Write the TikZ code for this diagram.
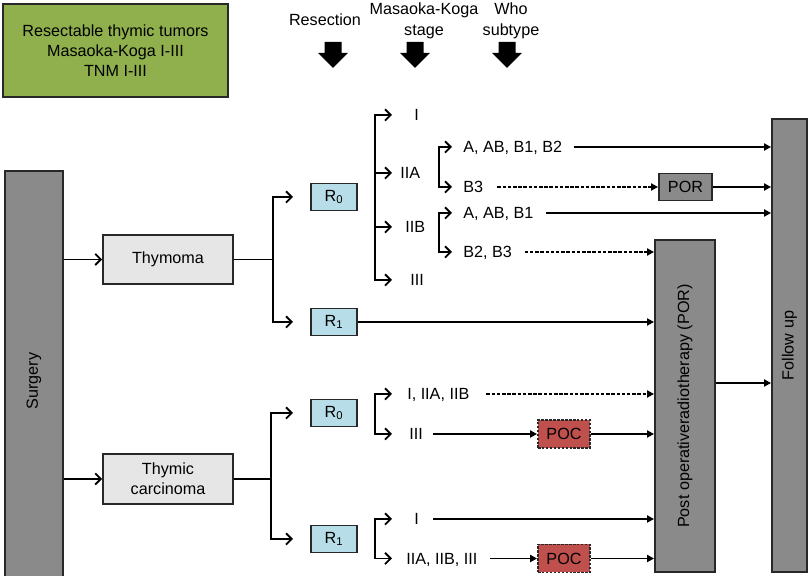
\documentclass[tikz,border=0pt]{standalone}
\usepackage{fontspec}
\setmainfont{Liberation Sans}
\usetikzlibrary{arrows.meta}

\definecolor{boxgreen}{RGB}{143,176,76}
\definecolor{bargray}{RGB}{138,138,138}
\definecolor{boxlight}{RGB}{230,230,230}
\definecolor{boxblue}{RGB}{183,221,232}
\definecolor{boxred}{RGB}{192,80,77}
\definecolor{edgedark}{RGB}{40,40,40}
\newcommand{\pxu}{0.025cm}

\begin{document}
\begin{tikzpicture}[x=\pxu,y=-\pxu,
  every node/.style={inner sep=0pt,font=\fontsize{11.5}{14.2}\selectfont},
  box/.style={draw=edgedark,line width=1.3pt,align=center},
  bar/.style={box,fill=bargray},
  rbox/.style={box,fill=boxblue,minimum width=46*\pxu,minimum height=27*\pxu},
  pocbox/.style={box,fill=boxred,dash pattern=on 1.8pt off 1pt,minimum width=52*\pxu,minimum height=28*\pxu},
  lab/.style={anchor=west,text height=8.2pt,text depth=0pt},
  link/.style={line width=1.3pt},
  tri/.style={link,-{Triangle[length=5pt,width=5pt]}},
  dashlink/.style={tri,dash pattern=on 2.5pt off 1.2pt},
  prong/.style={link,-{Straight Barb[length=4pt,width=8pt]}},
  fork/.style={link,{Straight Barb[length=4pt,width=8pt]}-{Straight Barb[length=4pt,width=8pt]}}]
\useasboundingbox (0,0) rectangle (812,576);
% header
\node[box,fill=boxgreen,minimum width=225*\pxu,minimum height=93*\pxu] (tumors) at (115.5,50.5)
  {Resectable thymic tumors\\Masaoka-Koga I-III\\TNM I-III};
\node (hres) at (325,20) {Resection};
\node[align=center,font=\fontsize{11.5}{15}\selectfont] (hstage) at (424,21) {Masaoka-Koga\\stage};
\node[align=center,font=\fontsize{11.5}{15}\selectfont] (htype) at (511,21) {Who\\subtype};
\foreach \cx in {333,415,507}
  \fill (\cx-8.5,42) -- (\cx+8.5,42) -- (\cx+8.5,53) -- (\cx+15,53) -- (\cx,68)
        -- (\cx-15,53) -- (\cx-8.5,53) -- cycle;
% bars
\node[bar,minimum width=58*\pxu,minimum height=420*\pxu] (surgery) at (34,381) {\rotatebox{90}{Surgery}};
\node[bar,minimum width=60*\pxu,minimum height=332*\pxu] (port) at (685,406)
  {\rotatebox{90}{Post operativeradiotherapy (POR)}};
\node[bar,minimum width=35*\pxu,minimum height=453*\pxu] (follow) at (789.5,345.5) {\rotatebox{90}{Follow up}};
% tumour type and resection
\node[box,fill=boxlight,minimum width=130*\pxu,minimum height=49*\pxu] (thymoma) at (168,259.5) {Thymoma};
\node[box,fill=boxlight,minimum width=130*\pxu,minimum height=50*\pxu] (carcinoma) at (168,479) {Thymic\\carcinoma};
\node[rbox] (r0t) at (334,197) {R\textsubscript{0}};
\node[rbox] (r1t) at (334,322) {R\textsubscript{1}};
\node[rbox] (r0c) at (334,413) {R\textsubscript{0}};
\node[rbox] (r1c) at (334,539) {R\textsubscript{1}};
\node[box,fill=bargray,minimum width=53*\pxu,minimum height=27*\pxu] (por) at (685.5,187) {POR};
\node[pocbox] (poc1) at (564,434) {POC};
\node[pocbox] (poc2) at (564,558.5) {POC};
% bracket columns
\coordinate (kType) at (273,0);
\coordinate (kCarc) at (271,0);
\coordinate (kTip) at (293,0);
\coordinate (kStage) at (375,0);
\coordinate (kStageTip) at (392,0);
\coordinate (kSub) at (439,0);
\coordinate (kSubTip) at (452,0);
\coordinate (toFollow) at (0,383);
% stage and subtype labels
\node[lab] (sI) at (414,115) {I};
\node[lab] (sIIA) at (400,173) {IIA};
\node[lab] (sIIB) at (405,227) {IIB};
\node[lab] (sIII) at (410,280) {III};
\node[lab] (sA1) at (463,147) {A, AB, B1, B2};
\node[lab] (sB3) at (463,187) {B3};
\node[lab] (sA2) at (463,213) {A, AB, B1};
\node[lab] (sB23) at (463,252) {B2, B3};
\node[lab] (cI1) at (407,394) {I, IIA, IIB};
\node[lab] (cIII1) at (409,434) {III};
\node[lab] (cI2) at (414,519) {I};
\node[lab] (cII2) at (406,558.5) {IIA, IIB, III};
% branches
\draw[prong] (surgery.east |- thymoma) -- (thymoma.west);
\draw[prong] (surgery.east |- carcinoma) -- (carcinoma.west);
\draw[link] (thymoma.east) -- (kType |- thymoma);
\draw[fork] (kTip |- r0t) -- (kType |- r0t) -- (kType |- r1t) -- (kTip |- r1t);
\draw[link] (carcinoma.east) -- (kCarc |- carcinoma);
\draw[fork] (kTip |- r0c) -- (kCarc |- r0c) -- (kCarc |- r1c) -- (kTip |- r1c);
\draw[fork] (kStageTip |- sI) -- (kStage |- sI) -- (kStage |- sIII) -- (kStageTip |- sIII);
\draw[prong] (kStage |- sIIA) -- (kStageTip |- sIIA);
\draw[prong] (kStage |- sIIB) -- (kStageTip |- sIIB);
\draw[fork] (kSubTip |- sA1) -- (kSub |- sA1) -- (kSub |- sB3) -- (kSubTip |- sB3);
\draw[fork] (kSubTip |- sA2) -- (kSub |- sA2) -- (kSub |- sB23) -- (kSubTip |- sB23);
\draw[fork] (kStageTip |- cI1) -- (kStage |- cI1) -- (kStage |- cIII1) -- (kStageTip |- cIII1);
\draw[fork] (kStageTip |- cI2) -- (kStage |- cI2) -- (kStage |- cII2) -- (kStageTip |- cII2);
% to the bars
\draw[tri,shorten <=8pt] (sA1.east) -- (follow.west |- sA1);
\draw[dashlink,shorten <=10pt] (sB3.east) -- (por.west);
\draw[tri] (por.east) -- (follow.west |- por);
\draw[tri,shorten <=9pt] (sA2.east) -- (follow.west |- sA2);
\draw[dashlink,shorten <=9pt] (sB23.east) -- (port.west |- sB23);
\draw[tri] (r1t.east) -- (port.west |- r1t);
\draw[tri] (port.east |- toFollow) -- (follow.west |- toFollow);
\draw[dashlink,shorten <=12pt] (cI1.east) -- (port.west |- cI1);
\draw[tri,shorten <=7pt] (cIII1.east) -- (poc1.west);
\draw[tri] (poc1.east) -- (port.west |- poc1);
\draw[tri,shorten <=10pt] (cI2.east) -- (port.west |- cI2);
\draw[tri,shorten <=9pt] (cII2.east) -- (poc2.west);
\draw[tri] (poc2.east) -- (port.west |- poc2);
\end{tikzpicture}
\end{document}
